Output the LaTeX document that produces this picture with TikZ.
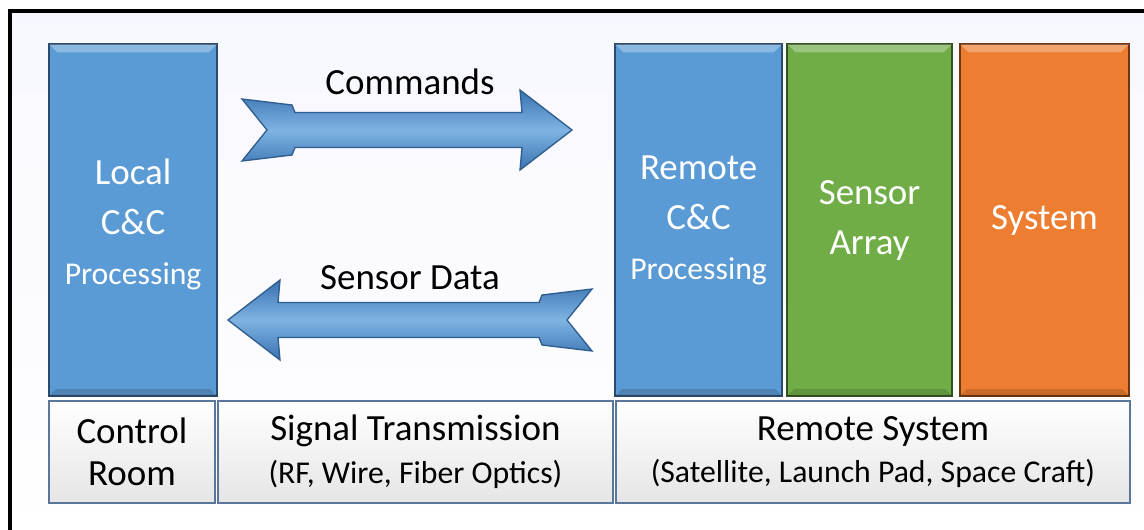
\documentclass[tikz,border=0pt]{standalone}
\RequirePackage{fontspec}
\RequirePackage{tikz}
\setmainfont{Carlito}
\usetikzlibrary{calc}

\definecolor{ccblue}{HTML}{5B9BD5}
\definecolor{ccblueedge}{HTML}{2C4A6B}
\definecolor{sensgreen}{HTML}{70AD47}
\definecolor{sensgreenedge}{HTML}{34521F}
\definecolor{sysorange}{HTML}{ED7D31}
\definecolor{sysorangeedge}{HTML}{6E3614}
\definecolor{baseedge}{HTML}{5A7799}
\definecolor{arrowedge}{HTML}{2F5E8E}
\definecolor{arrowhi}{HTML}{7FB3E3}
\definecolor{arrowlo}{HTML}{3872B0}

\newcommand{\bigtext}{\fontsize{27.7}{37.5}\selectfont}
\newcommand{\smalltext}{\fontsize{23.8}{30}\selectfont}

% notched block arrow, tail at (0,0), tip at (#1,0)
\newcommand{\fatarrow}[1]{%
  \path[arrowbody] (0,-31) -- (50,-25) -- (53,-17.5) -- (#1-50,-17.5)
    -- (#1-52,-40) -- (#1,0) -- (#1-52,40) -- (#1-50,17.5) -- (53,17.5)
    -- (50,25) -- (0,31) -- (25,0) -- cycle;}

\tikzset{
  colbox/.style={draw=#1edge, fill=#1, line width=1.6pt, anchor=north west,
    minimum height=264pt, inner sep=0pt, text=white, align=center,
    font=\bigtext},
  basebox/.style={draw=baseedge, line width=1.4pt, top color=white,
    bottom color=black!10, anchor=north west, minimum height=76.5pt,
    inner sep=0pt, align=center, font=\fontsize{27.7}{32}\selectfont},
  arrowbody/.style={draw=arrowedge, line width=1pt, top color=arrowlo,
    bottom color=arrowlo, middle color=arrowhi},
  arrowlabel/.style={font=\bigtext, inner sep=0pt}
}

\begin{document}
\begin{tikzpicture}[x=0.75pt,y=-0.75pt]
  \useasboundingbox (0,0) rectangle (1144,529);
  \clip (0,0) rectangle (1144,529);

  % frame and background
  \fill[top color=blue!3!white, bottom color=white] (10,11) rectangle (1160,545);
  \draw[line width=3pt] (10,11) rectangle (1160,545);

  % top row of blocks
  \node[colbox=ccblue, minimum width=126pt] (local) at (48,43)
    {\strut Local\\C\&C\\{\smalltext Processing}};
  \node[colbox=ccblue, minimum width=125.25pt] (remote) at (614,43)
    {Remote\\C\&C\\{\smalltext Processing}};
  \node[colbox=sensgreen, minimum width=123.75pt] (sensor) at (786,43)
    {Sensor\\Array};
  \node[colbox=sysorange, minimum width=126.75pt] (system) at (959,43)
    {System};

  % bevel on the blocks
  \foreach \n in {local,remote,sensor,system} {
    \fill[white,opacity=0.3] ([shift={(1pt,-1pt)}]\n.north west)
      -- ([shift={(-1pt,-1pt)}]\n.north east) -- ([shift={(-7pt,-7pt)}]\n.north east)
      -- ([shift={(7pt,-7pt)}]\n.north west) -- cycle;
    \fill[black,opacity=0.15] ([shift={(1pt,1pt)}]\n.south west)
      -- ([shift={(-1pt,1pt)}]\n.south east) -- ([shift={(-6pt,6pt)}]\n.south east)
      -- ([shift={(6pt,6pt)}]\n.south west) -- cycle;
  }

  % bottom row
  \node[basebox, minimum width=124.5pt] (room) at (48,400)
    {Control\\Room};
  \node[basebox, minimum width=296.25pt] (link) at (217,400)
    {Signal Transmission\\{\smalltext (RF, Wire, Fiber Optics)}};
  \node[basebox, minimum width=385.5pt] (site) at (615,400)
    {Remote System\\{\smalltext (Satellite, Launch Pad, Space Craft)}};

  % the two arrows
  \begin{scope}[shift={(242,130)}]
    \fatarrow{330}
  \end{scope}
  \begin{scope}[shift={(592,320)}, xscale=-1]
    \fatarrow{364}
  \end{scope}
  \node[arrowlabel] (cmd) at (410,82) {Commands};
  \node[arrowlabel] (data) at (410,278) {Sensor Data};
\end{tikzpicture}
\end{document}
